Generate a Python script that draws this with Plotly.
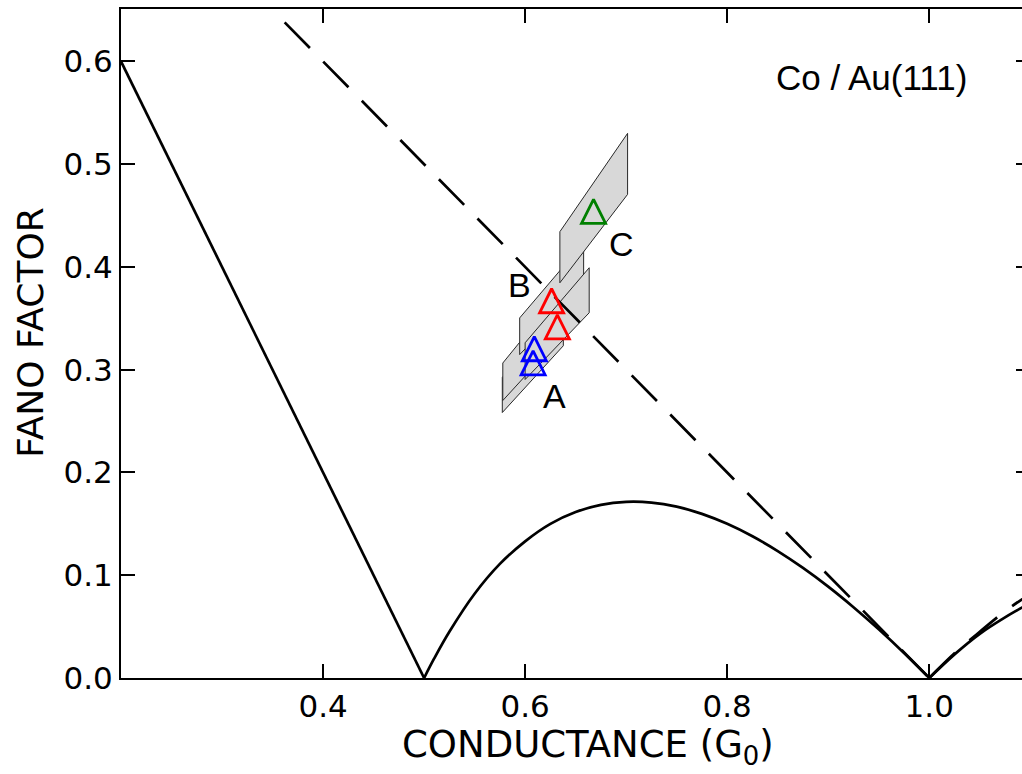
import plotly.graph_objects as go

# ---------------- data ----------------
# solid curve: three pieces
solid1_g = [0.2, 0.5]
solid1_f = [0.6, 0.0]
solid2_g = [0.5, 0.51, 0.525, 0.55, 0.575, 0.6, 0.625, 0.65, 0.675, 0.7, 0.725,
            0.75, 0.775, 0.8, 0.825, 0.85, 0.875, 0.9, 0.925, 0.95, 0.975, 1.0]
solid2_f = [0.0, 0.019, 0.045, 0.082, 0.111, 0.133, 0.150, 0.1615, 0.1685, 0.1714, 0.1707,
            0.1667, 0.1597, 0.150, 0.1379, 0.1235, 0.1071, 0.0889, 0.0689, 0.0474, 0.0244, 0.0]
solid3_g = [1.0, 1.025, 1.05, 1.075, 1.1]
solid3_f = [0.0, 0.023, 0.043, 0.059, 0.073]

# dashed curve: two pieces
dash1_g = [0.362, 1.0]
dash1_f = [0.638, 0.0]
dash2_g = [1.0, 1.025, 1.05, 1.075, 1.1]
dash2_f = [0.0, 0.024, 0.045, 0.065, 0.082]

# measured points (A: blue, B: red, C: green)
point_g = [0.6079, 0.6091, 0.6262, 0.6319, 0.6677]
point_f = [0.3067, 0.3204, 0.3671, 0.3416, 0.4540]
point_color = ["#0000ff", "#0000ff", "#ff0000", "#ff0000", "#008000"]

# error regions (quadrilaterals with vertical sides), same order as points
box_g_left = [0.5774, 0.5779, 0.5946, 0.6000, 0.6344]
box_g_right = [0.6378, 0.6383, 0.6579, 0.6634, 0.7014]
box_f_left_low = [0.2583, 0.2700, 0.3147, 0.2905, 0.3846]
box_f_left_high = [0.2924, 0.3065, 0.3504, 0.3262, 0.4343]
box_f_right_low = [0.3233, 0.3350, 0.3797, 0.3554, 0.4706]
box_f_right_high = [0.3654, 0.3796, 0.4235, 0.3992, 0.5300]

label_text = ["A", "B", "C"]
label_g = [0.6289, 0.5948, 0.6950]
label_f = [0.2749, 0.3820, 0.4219]

y_ticks = [0.0, 0.1, 0.2, 0.3, 0.4, 0.5, 0.6]
x_ticks = [0.4, 0.6, 0.8, 1.0]

# ---------------- figure ----------------
fig = go.Figure()

# error regions
for i in range(len(box_g_left)):
    xs = [box_g_left[i], box_g_left[i], box_g_right[i], box_g_right[i], box_g_left[i]]
    ys = [box_f_left_low[i], box_f_left_high[i], box_f_right_high[i],
          box_f_right_low[i], box_f_left_low[i]]
    fig.add_trace(go.Scatter(x=xs, y=ys, mode="lines", fill="toself",
                             fillcolor="rgb(216,216,216)",
                             line=dict(color="rgb(40,40,40)", width=1),
                             hoverinfo="skip", showlegend=False))


def joined(*pairs):
    gx, fy = [], []
    for k, (a, b) in enumerate(pairs):
        if k:
            gx.append(None)
            fy.append(None)
        gx += a
        fy += b
    return gx, fy


sx, sy = joined((solid1_g, solid1_f), (solid2_g, solid2_f), (solid3_g, solid3_f))
fig.add_trace(go.Scatter(x=sx, y=sy, mode="lines",
                         line=dict(color="black", width=2.7, shape="spline", smoothing=1.0),
                         showlegend=False))
dx, dy = joined((dash1_g, dash1_f), (dash2_g, dash2_f))
fig.add_trace(go.Scatter(x=dx, y=dy, mode="lines",
                         line=dict(color="black", width=2.7, dash="36px,19px",
                                   shape="spline", smoothing=1.0),
                         showlegend=False))

# open triangles (arrow-down flipped by 180 deg, re-centred with standoff)
msize = 24
fig.add_trace(go.Scatter(x=point_g, y=point_f, mode="markers",
                         marker=dict(symbol="arrow-down-open", angle=180,
                                     standoff=msize / 2, size=msize,
                                     color=point_color,
                                     line=dict(color=point_color, width=2.8)),
                         showlegend=False))

for t, gx_, fy_ in zip(label_text, label_g, label_f):
    fig.add_annotation(x=gx_, y=fy_, text=t, showarrow=False,
                       font=dict(family="Liberation Sans", size=34, color="black"),
                       xanchor="center", yanchor="middle")

fig.add_annotation(x=0.9433, y=0.5845, text="Co / Au(111)", showarrow=False,
                   font=dict(family="Liberation Sans", size=35, color="black"),
                   xanchor="center", yanchor="middle")

# axis titles
fig.add_annotation(xref="paper", yref="paper", x=-0.1005, y=0.517,
                   text="FANO FACTOR", textangle=-90, showarrow=False,
                   font=dict(family="DejaVu Sans", size=36, color="black"),
                   xanchor="center", yanchor="middle")
fig.add_annotation(xref="paper", yref="paper", x=0.5136, y=-0.1025,
                   text="CONDUCTANCE (G<sub>0</sub>)", showarrow=False,
                   font=dict(family="DejaVu Sans", size=37, color="black"),
                   xanchor="center", yanchor="middle")

axis_common = dict(showline=True, linecolor="black", linewidth=2,
                   ticks="inside", ticklen=14, tickwidth=2, tickcolor="black",
                   mirror="ticks", showgrid=False, zeroline=False,
                   tickfont=dict(family="DejaVu Sans", size=31, color="black"))

fig.update_xaxes(range=[0.2, 1.0997], tickvals=x_ticks, tickformat=".1f",
                 **axis_common)
fig.update_yaxes(range=[0, 0.651], tickvals=y_ticks, tickformat=".1f",
                 **axis_common)

fig.update_layout(width=1030, height=774,
                  margin=dict(l=121, r=0, t=9, b=96, autoexpand=False),
                  plot_bgcolor="white", paper_bgcolor="white")

fig.write_html("out.html",
               config={"displayModeBar": False},
               post_script="document.body.style.margin='0';"
                           "document.body.style.overflow='hidden';")
